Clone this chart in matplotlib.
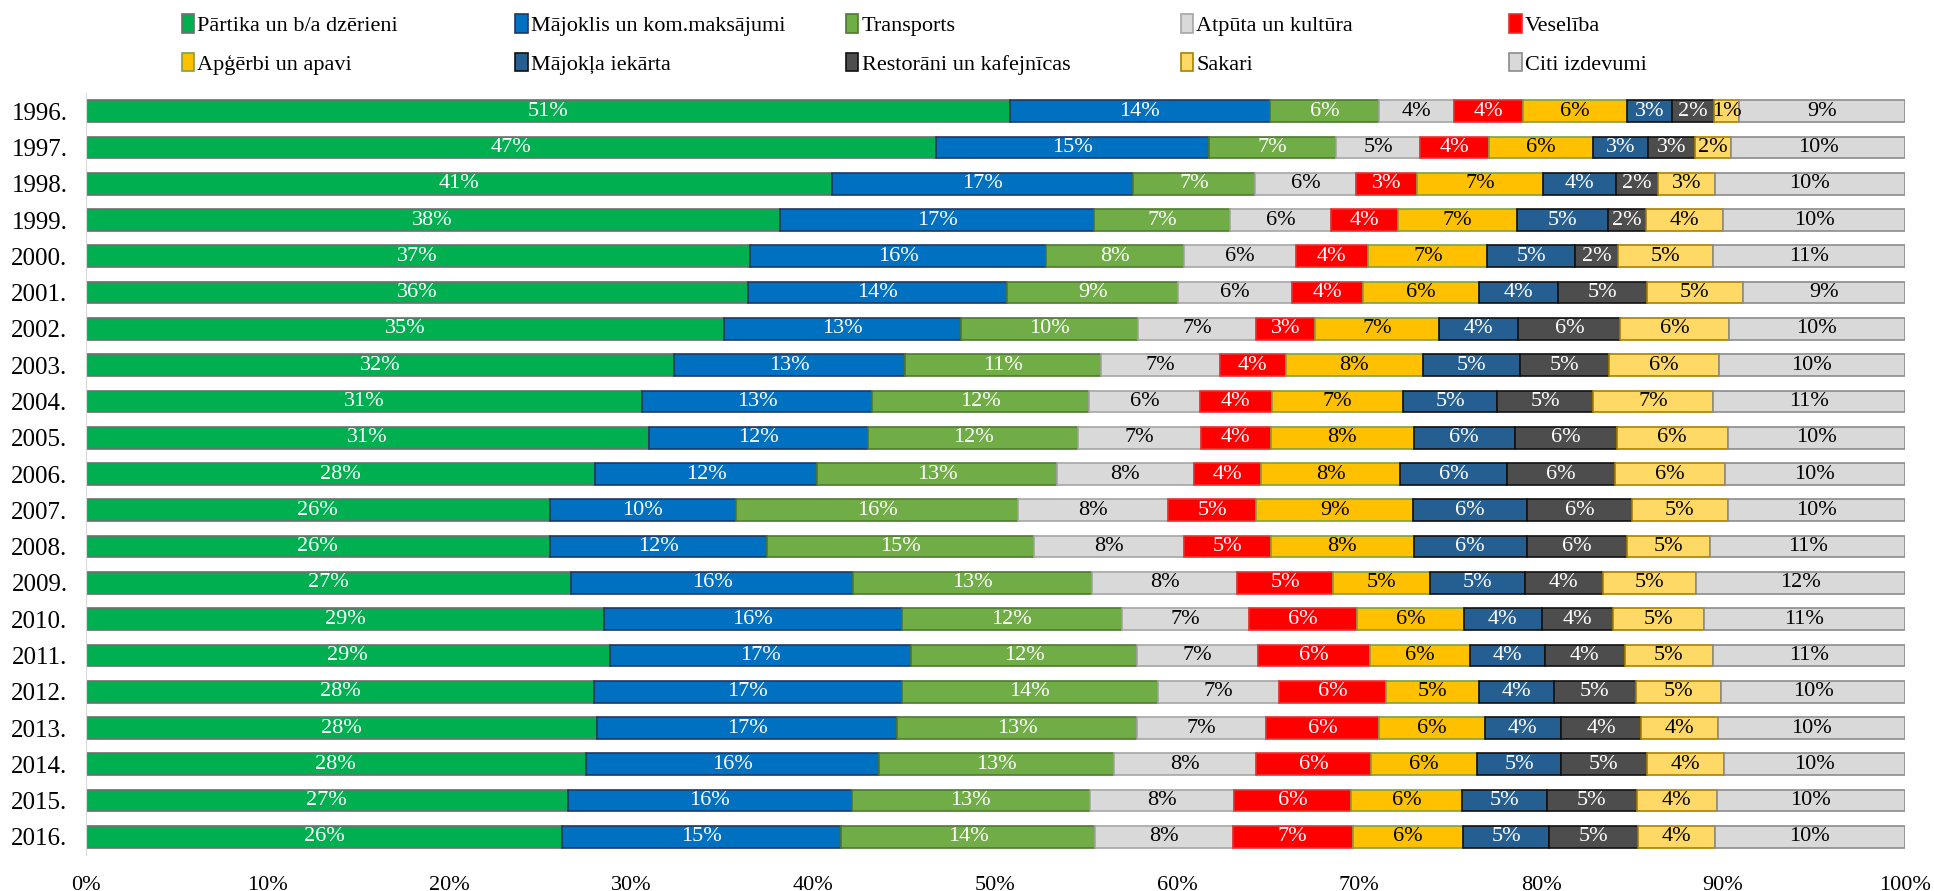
import numpy as np
import matplotlib.pyplot as plt
from matplotlib.patches import Patch

plt.rcParams['font.family'] = ['Liberation Serif', 'DejaVu Serif']

years = ['1996.', '1997.', '1998.', '1999.', '2000.', '2001.', '2002.', '2003.', '2004.', '2005.', '2006.',
         '2007.', '2008.', '2009.', '2010.', '2011.', '2012.', '2013.', '2014.', '2015.', '2016.']

# shares of consumption expenditure, %
food = [50.8, 46.75, 41.0, 38.15, 36.5, 36.4, 35.1, 32.35, 30.6, 30.95, 28.0,
        25.5, 25.5, 26.7, 28.5, 28.8, 27.95, 28.1, 27.5, 26.5, 26.2]
housing = [14.3, 15.0, 16.55, 17.3, 16.3, 14.25, 13.0, 12.7, 12.6, 12.05, 12.2,
           10.25, 11.95, 15.5, 16.35, 16.55, 16.9, 16.5, 16.1, 15.6, 15.3]
transport = [6.0, 7.0, 6.75, 7.45, 7.55, 9.4, 9.75, 10.75, 11.95, 11.55, 13.2,
             15.5, 14.65, 13.1, 12.1, 12.45, 14.1, 13.2, 12.9, 13.1, 14.0]
recreation = [4.1, 4.6, 5.5, 5.55, 6.15, 6.25, 6.5, 6.55, 6.1, 6.75, 7.5,
              8.25, 8.25, 8.0, 7.0, 6.65, 6.65, 7.05, 7.85, 7.9, 7.55]
health = [3.8, 3.8, 3.4, 3.7, 4.0, 3.9, 3.2, 3.6, 3.95, 3.85, 3.7,
          4.85, 4.8, 5.25, 5.95, 6.15, 5.9, 6.25, 6.3, 6.45, 6.6]
clothing = [5.7, 5.7, 6.9, 6.5, 6.55, 6.4, 6.85, 7.55, 7.2, 7.85, 7.65,
            8.6, 7.85, 5.35, 5.85, 5.5, 5.1, 5.8, 5.85, 6.1, 6.05]
furnishing = [2.5, 3.0, 4.0, 5.0, 4.8, 4.3, 4.35, 5.35, 5.2, 5.55, 5.9,
              6.25, 6.2, 5.2, 4.3, 4.1, 4.1, 4.2, 4.6, 4.65, 4.75]
restaurants = [2.3, 2.6, 2.35, 2.1, 2.4, 4.9, 5.6, 4.9, 5.25, 5.6, 5.9,
               5.8, 5.5, 4.3, 3.9, 4.4, 4.5, 4.4, 4.7, 4.95, 4.85]
communication = [1.4, 2.0, 3.1, 4.25, 5.2, 5.3, 5.95, 6.0, 6.6, 6.1, 6.05,
                 5.25, 4.6, 5.1, 5.0, 4.85, 4.7, 4.2, 4.25, 4.4, 4.25]
other = [9.1, 9.55, 10.45, 10.0, 10.55, 8.9, 9.7, 10.25, 10.55, 9.75, 9.9,
         9.75, 10.7, 11.5, 11.05, 10.55, 10.1, 10.3, 9.95, 10.35, 10.45]

labels = ['Pārtika un b/a dzērieni', 'Mājoklis un kom.maksājumi', 'Transports', 'Atpūta un kultūra',
          'Veselība', 'Apģērbi un apavi', 'Mājokļa iekārta', 'Restorāni un kafejnīcas', 'Sakari',
          'Citi izdevumi']

series = [food, housing, transport, recreation, health, clothing, furnishing, restaurants, communication, other]
colors = ['#00B050', '#0070C0', '#70AD47', '#D9D9D9', '#FF0000', '#FFC000', '#255E91', '#4D4D4D',
          '#FFD966', '#D9D9D9']
edges = ['#6E6E6E', '#1F3864', '#4E7A30', '#A6A6A6', '#E83030', '#7FA040', '#111111', '#111111',
         '#A88000', '#8C8C8C']
txtcol = ['white', 'white', 'white', 'black', 'white', 'black', 'white', 'white', 'black', 'black']

fig = plt.figure(figsize=(19.34, 8.91), dpi=100)
ax = fig.add_axes([0.0443, 0.0404, 0.9407, 0.8552])

y = np.arange(len(years))
left = np.zeros(len(years))
for vals, c, ec, tc in zip(series, colors, edges, txtcol):
    vals = np.array(vals)
    ax.barh(y, vals, left=left, height=0.6, color=c, edgecolor=ec, linewidth=1.2)
    for yi, (l, v) in enumerate(zip(left, vals)):
        ax.text(l + v / 2, yi, f"{int(v + 0.5)}%", ha='center', va='center', color=tc, fontsize=16)
    left = left + vals

ax.set_xlim(0, 100)
ax.set_ylim(len(years) - 0.5, -0.5)
ax.set_yticks(y)
ax.set_yticklabels(years, fontsize=18)
ax.set_xticks(np.arange(0, 101, 10))
ax.set_xticklabels([f"{t}%" for t in range(0, 101, 10)], fontsize=16)
ax.tick_params(axis='both', length=0)
ax.tick_params(axis='y', pad=13)
ax.tick_params(axis='x', pad=15)
for s in ['top', 'right', 'bottom']:
    ax.spines[s].set_visible(False)
ax.spines['left'].set_color('#D9D9D9')

# legend: 5 columns, evenly spaced
handles = [Patch(facecolor=c, edgecolor=ec, linewidth=1.2) for c, ec in zip(colors, edges)]
col_x = [0.0865, 0.259, 0.430, 0.603, 0.773]
for i, x in enumerate(col_x):
    fig.legend([handles[i], handles[i + 5]], [labels[i], labels[i + 5]], loc='upper left',
               bbox_to_anchor=(x, 1.0), frameon=False, fontsize=16, handlelength=0.55,
               handleheight=0.9, handletextpad=0.15, labelspacing=0.75, borderpad=0.15)

fig.savefig('out.png', dpi=100)
